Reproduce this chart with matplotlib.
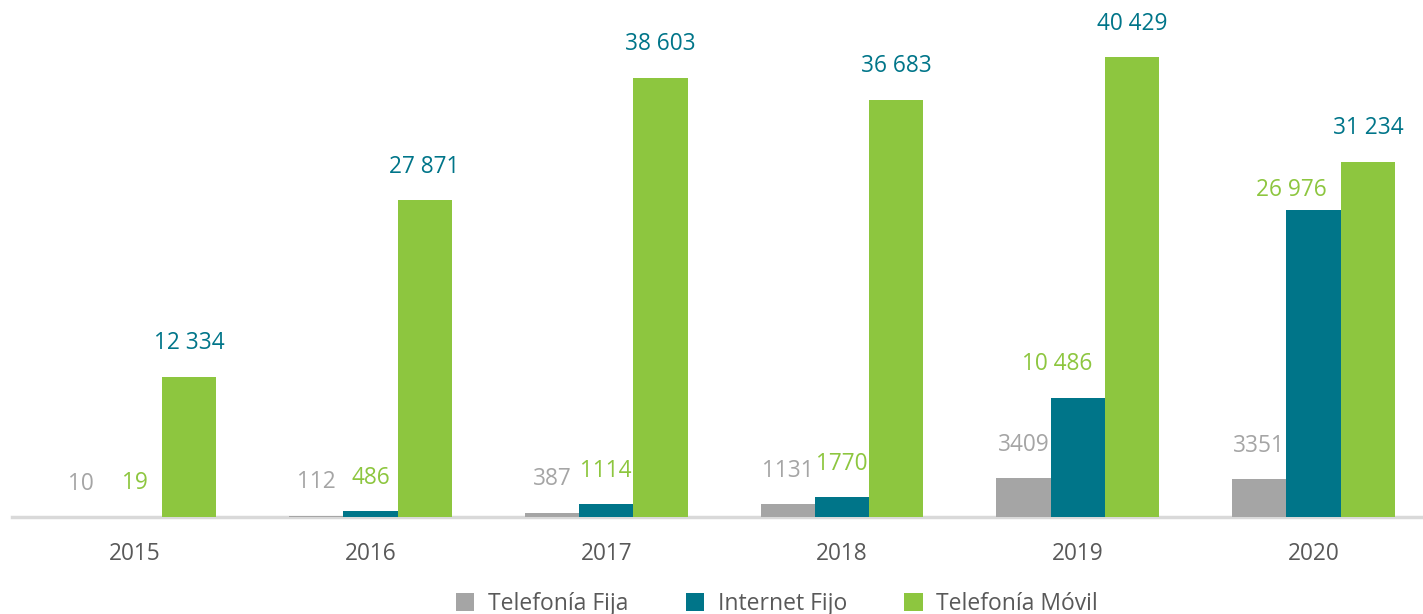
import numpy as np
import matplotlib.pyplot as plt

plt.rcParams['font.family'] = ['Open Sans', 'DejaVu Sans']

years = ['2015', '2016', '2017', '2018', '2019', '2020']
series_names = ['Telefonía Fija', 'Internet Fijo', 'Telefonía Móvil']
telefonia_fija = [10, 112, 387, 1131, 3409, 3351]
internet_fijo = [19, 486, 1114, 1770, 10486, 26976]
telefonia_movil = [12334, 27871, 38603, 36683, 40429, 31234]

bar_colors = ['#A5A5A5', '#007589', '#8DC63F']
# label colours in the original are swapped between the last two series
label_colors = ['#A5A5A5', '#8DC63F', '#007589']

# a couple of labels were nudged by hand in the original (points)
label_nudge = {(1, 4): (-15, 24), (1, 5): (-16, 14.5)}


def fmt(v):
    if v >= 10000:
        return '{:,}'.format(v).replace(',', ' ')
    return str(v)


fig = plt.figure(figsize=(14.23, 6.14), dpi=100)
ax = fig.add_axes([12 / 1423, 1 - 517 / 614, 1 - 12 / 1423, 517 / 614])

x = np.arange(len(years))
width = 0.23
all_series = [telefonia_fija, internet_fijo, telefonia_movil]

for i, values in enumerate(all_series):
    pos = x + (i - 1) * width
    ax.bar(pos, values, width=width, color=bar_colors[i], label=series_names[i], zorder=3)
    for j, (xp, v) in enumerate(zip(pos, values)):
        ax.annotate(fmt(v), xy=(xp, v), xytext=label_nudge.get((i, j), (0, 24)),
                    textcoords='offset points', ha='center', va='center',
                    fontsize=16.3, color=label_colors[i], zorder=4)

ax.set_xlim(-0.52, 5.464)
ax.set_ylim(0, 45438)
ax.set_yticks([])
ax.set_xticks(x)
ax.set_xticklabels(years, fontsize=16.3, color='#595959')
ax.tick_params(axis='x', length=0, pad=18)

for s in ['top', 'right', 'left']:
    ax.spines[s].set_visible(False)
ax.spines['bottom'].set_color('#D9D9D9')
ax.spines['bottom'].set_linewidth(2.5)
ax.spines['bottom'].set_zorder(1)

fig.legend(loc='center', bbox_to_anchor=(777 / 1423, 1 - 604 / 614), ncol=3, frameon=False,
           fontsize=16.5, labelcolor='#595959', handlelength=0.8, handleheight=0.8,
           handletextpad=0.6, columnspacing=2.5)

fig.savefig('out.png', dpi=100)
plt.close(fig)
